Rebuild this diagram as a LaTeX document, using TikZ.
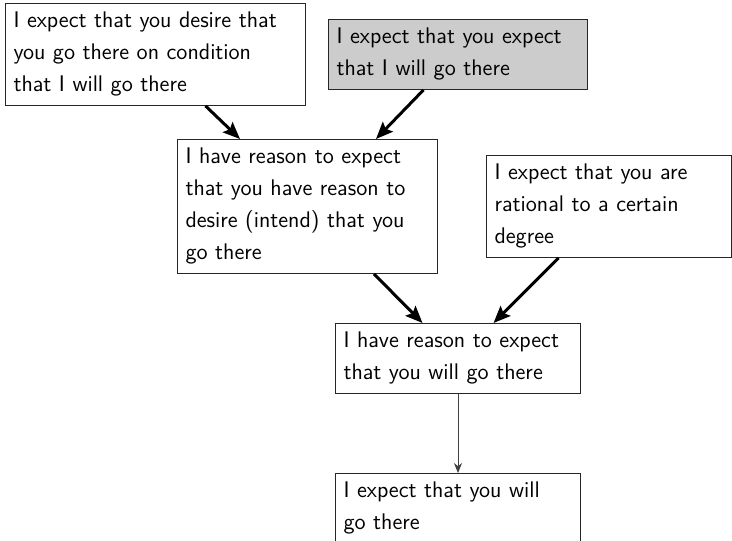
\documentclass[tikz,border=0pt]{standalone}
\usetikzlibrary{calc, positioning}
\usetikzlibrary{arrows.meta}
\newcommand\boxfont{\fontsize{11.3}{16}\selectfont\sffamily\spaceskip=4.6pt plus 1pt\relax}

\begin{document}
\begin{tikzpicture}[x=0.5pt,y=-0.5pt,
  box/.style={draw=black!85,line width=0.5pt,fill=white,anchor=north west,
    inner xsep=4pt,inner ysep=4.4pt,align=left,font=\boxfont},
  shaded/.style={box,fill=gray!40},
  bigarrow/.style={line width=1.5pt,-{Stealth[length=8.5pt,width=7pt,inset=1.5pt]}},
  thinarrow/.style={line width=0.5pt,gray!50!black,-{Stealth[length=5pt,width=4pt]}}]
\useasboundingbox (0,0) rectangle (732,540);
\clip (0,0) rectangle (732,540);
% premises
\node[box,text width=142pt] (wish) at (5,3)
  {I expect that you desire that\\you go there on condition\\that I will go there};
\node[shaded,text width=121.5pt] (belief) at (328,19)
  {I expect that you expect\\that I will go there};
\node[box,text width=122pt] (reason) at (177,139)
  {I have reason to expect\\that you have reason to\\desire (intend) that you\\go there};
\node[box,text width=114.5pt] (rational) at (486,155)
  {I expect that you are\\rational to a certain\\degree};
% conclusions
\node[box,text width=114.5pt] (will) at (335,323)
  {I have reason to expect\\that you will go there};
\node[box,text width=114.5pt] (go) at (335,473)
  {I expect that you will\\go there};
\foreach \s/\sx/\t/\tx in {wish/25/reason/-33.75, belief/-17.25/reason/34.25,
    reason/33.25/will/-17.75, rational/-25.25/will/17.75}{
  \draw[bigarrow] ([xshift=\sx]\s.south) -- ([xshift=\tx]\t.north);
}
\draw[thinarrow] (will) -- (go);
\end{tikzpicture}
\end{document}
